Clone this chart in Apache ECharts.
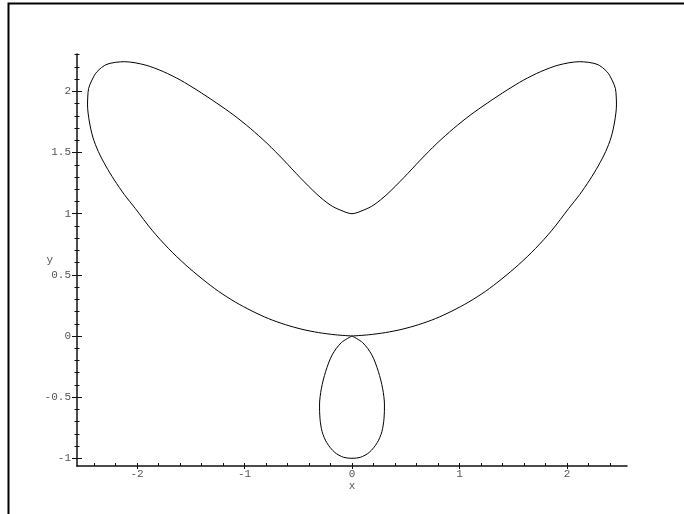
<!DOCTYPE html>
<html>
<head>
<meta charset="utf-8">
<title>polar curve</title>
<script src="https://cdn.jsdelivr.net/npm/echarts@6.0.0/dist/echarts.min.js"></script>
<style>
  html, body { margin: 0; padding: 0; background: #fff; }
  #chart { width: 684px; height: 514px; }
</style>
</head>
<body>
<div id="chart"></div>
<script>
// outer loop: origin -> lower left -> top left lobe -> (0,1) -> top right lobe -> lower right -> origin
const outerLoop = [
  [0, 0], [-0.155, 0.010], [-0.311, 0.028], [-0.465, 0.055], [-0.620, 0.093],
  [-0.776, 0.142], [-0.930, 0.204], [-1.086, 0.278], [-1.241, 0.365], [-1.395, 0.468],
  [-1.551, 0.584], [-1.706, 0.715], [-1.860, 0.865], [-2.016, 1.043], [-2.118, 1.157],
  [-2.211, 1.276], [-2.290, 1.390], [-2.360, 1.509], [-2.411, 1.627], [-2.444, 1.758],
  [-2.460, 1.889], [-2.458, 1.954], [-2.450, 2.025], [-2.419, 2.093], [-2.372, 2.161],
  [-2.279, 2.222], [-2.115, 2.243], [-1.923, 2.216], [-1.753, 2.161], [-1.597, 2.093],
  [-1.442, 2.011], [-1.256, 1.903], [-1.101, 1.807], [-0.946, 1.698], [-0.791, 1.576],
  [-0.636, 1.439], [-0.481, 1.294], [-0.326, 1.159], [-0.202, 1.071], [-0.109, 1.030],
  [0, 1.0],
  [0.109, 1.030], [0.202, 1.071], [0.326, 1.159], [0.481, 1.294], [0.636, 1.439],
  [0.791, 1.576], [0.946, 1.698], [1.101, 1.807], [1.256, 1.903], [1.442, 2.011],
  [1.597, 2.093], [1.753, 2.161], [1.923, 2.216], [2.115, 2.243], [2.279, 2.222],
  [2.372, 2.161], [2.419, 2.093], [2.450, 2.025], [2.458, 1.954], [2.460, 1.889],
  [2.444, 1.758], [2.411, 1.627], [2.360, 1.509], [2.290, 1.390], [2.211, 1.276],
  [2.118, 1.157], [2.016, 1.043], [1.860, 0.865], [1.706, 0.715], [1.551, 0.584],
  [1.395, 0.468], [1.241, 0.365], [1.086, 0.278], [0.930, 0.204], [0.776, 0.142],
  [0.620, 0.093], [0.465, 0.055], [0.311, 0.028], [0.155, 0.010], [0, 0]
]

// inner loop below the origin
const innerLoop = [
  [0, 0], [-0.10, -0.055], [-0.185, -0.155], [-0.245, -0.29], [-0.285, -0.43],
  [-0.302, -0.564], [-0.298, -0.673], [-0.278, -0.782], [-0.235, -0.872], [-0.16, -0.952],
  [-0.078, -0.992], [0, -1.0], [0.078, -0.992], [0.16, -0.952], [0.235, -0.872],
  [0.278, -0.782], [0.298, -0.673], [0.302, -0.564], [0.285, -0.43], [0.245, -0.29],
  [0.185, -0.155], [0.10, -0.055], [0, 0]
]

// ticks
const xMajor = [-2, -1, 0, 1, 2]
const xMinor = [-2.4, -2.2, -1.8, -1.6, -1.4, -1.2, -0.8, -0.6, -0.4, -0.2,
  0.2, 0.4, 0.6, 0.8, 1.2, 1.4, 1.6, 1.8, 2.2, 2.4]
const yMajor = [-1, -0.5, 0, 0.5, 1, 1.5, 2]
const yMinor = [-0.9, -0.8, -0.7, -0.6, -0.4, -0.3, -0.2, -0.1, 0.1, 0.2, 0.3, 0.4,
  0.6, 0.7, 0.8, 0.9, 1.1, 1.2, 1.3, 1.4, 1.6, 1.7, 1.8, 1.9, 2.1, 2.2, 2.3]

const xRange = [-2.558, 2.558]
const yRange = [-1.063, 2.306]

const axisColor = '#111'
const labelStyle = { fontFamily: 'Liberation Mono', fontSize: 11, color: '#555' }

// a bare axis that only draws ticks
const tickAxis = (range, values, inside, len, pos) => ({
  type: 'value',
  position: pos,
  min: range[0],
  max: range[1],
  axisLine: { show: false, onZero: false },
  axisLabel: { show: false },
  splitLine: { show: false },
  axisTick: {
    show: true,
    inside: inside,
    length: len,
    customValues: values,
    lineStyle: { color: axisColor, width: 1 }
  }
})

const chart = echarts.init(document.getElementById('chart'), null, { renderer: 'canvas' })

chart.setOption({
  animation: false,
  backgroundColor: '#fff',
  grid: { left: 77, right: 57, top: 54, bottom: 48 },
  graphic: [
    {
      type: 'rect',
      shape: { x: 8.5, y: 3.5, width: 720, height: 560 },
      style: { fill: 'none', stroke: '#000', lineWidth: 2 },
      silent: true
    }
  ],
  xAxis: [
    {
      type: 'value',
      position: 'bottom',
      min: xRange[0],
      max: xRange[1],
      name: 'x',
      nameLocation: 'middle',
      nameGap: 15,
      nameMoveOverlap: false,
      nameTextStyle: labelStyle,
      axisLine: { show: true, onZero: false, lineStyle: { color: axisColor, width: 1.5 } },
      axisTick: { show: true, length: 3, customValues: xMajor, lineStyle: { color: axisColor } },
      axisLabel: Object.assign({ margin: 3, customValues: xMajor }, labelStyle),
      splitLine: { show: false }
    },
    tickAxis(xRange, xMajor.concat(xMinor), true, 3, 'bottom')
  ],
  yAxis: [
    {
      type: 'value',
      position: 'left',
      min: yRange[0],
      max: yRange[1],
      name: 'y',
      nameLocation: 'middle',
      nameRotate: 0,
      nameGap: 24,
      nameMoveOverlap: false,
      nameTextStyle: labelStyle,
      axisLine: { show: true, onZero: false, lineStyle: { color: axisColor, width: 1.5 } },
      axisTick: { show: true, length: 5, customValues: yMajor, lineStyle: { color: axisColor } },
      axisLabel: Object.assign({ margin: 6, customValues: yMajor }, labelStyle),
      splitLine: { show: false }
    },
    tickAxis(yRange, yMajor, true, 5, 'left'),
    tickAxis(yRange, yMinor, false, 2.5, 'left'),
    tickAxis(yRange, yMinor, true, 2.5, 'left')
  ],
  series: [
    {
      name: 'outer',
      type: 'line',
      xAxisIndex: 0,
      yAxisIndex: 0,
      data: outerLoop,
      smooth: 0.3,
      showSymbol: false,
      lineStyle: { color: '#000', width: 1 }
    },
    {
      name: 'inner',
      type: 'line',
      xAxisIndex: 0,
      yAxisIndex: 0,
      data: innerLoop,
      smooth: 0.3,
      showSymbol: false,
      lineStyle: { color: '#000', width: 1 }
    }
  ]
})
</script>
</body>
</html>
